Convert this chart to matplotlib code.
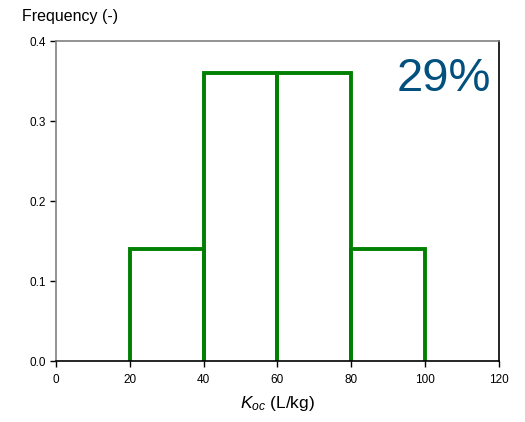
import numpy as np
import matplotlib
matplotlib.use("Agg")
import matplotlib.pyplot as plt

plt.rcParams['font.family'] = ['Liberation Sans', 'DejaVu Sans']
plt.rcParams['mathtext.fontset'] = 'custom'
plt.rcParams['mathtext.rm'] = 'Liberation Sans'
plt.rcParams['mathtext.it'] = 'Liberation Sans:italic'

# bin edges and frequencies
bin_left  = [20, 40, 60, 80]
bin_right = [40, 60, 80, 100]
freq      = [0.14, 0.36, 0.36, 0.14]
x_ticks   = [0, 20, 40, 60, 80, 100, 120]
y_ticks   = [0.0, 0.1, 0.2, 0.3, 0.4]

fig = plt.figure(figsize=(5.25, 4.22), dpi=100)
ax = fig.add_axes((0.1067, 0.1445, 0.8433, 0.7583))

for l, r, h in zip(bin_left, bin_right, freq):
    ax.plot([l, l, r, r], [0, h, h, 0], color='#008000', lw=2.8,
            solid_joinstyle='miter', zorder=2)

ax.set_xlim(0, 120)
ax.set_ylim(0, 0.4)
ax.set_xticks(x_ticks)
ax.set_yticks(y_ticks)
ax.set_yticklabels(['%.1f' % v for v in y_ticks])
ax.tick_params(direction='out', length=4, labelsize=8.5, width=1)
ax.tick_params(axis='x', pad=5)

ax.spines['left'].set_color('#808080')
ax.spines['top'].set_color('#808080')
ax.spines['right'].set_color('black')
ax.spines['bottom'].set_color('black')
for s in ax.spines.values():
    s.set_linewidth(1.2)
    s.set_zorder(3)

ax.set_xlabel(r'$K_{oc}$ (L/kg)', fontsize=12.5, labelpad=6)
fig.text(0.042, 0.962, 'Frequency (-)', fontsize=11.5, ha='left', va='center')
ax.text(0.983, 0.88, '29%', transform=ax.transAxes, fontsize=34,
        color='#01507e', ha='right', va='center')

fig.savefig('out.png', dpi=100)
